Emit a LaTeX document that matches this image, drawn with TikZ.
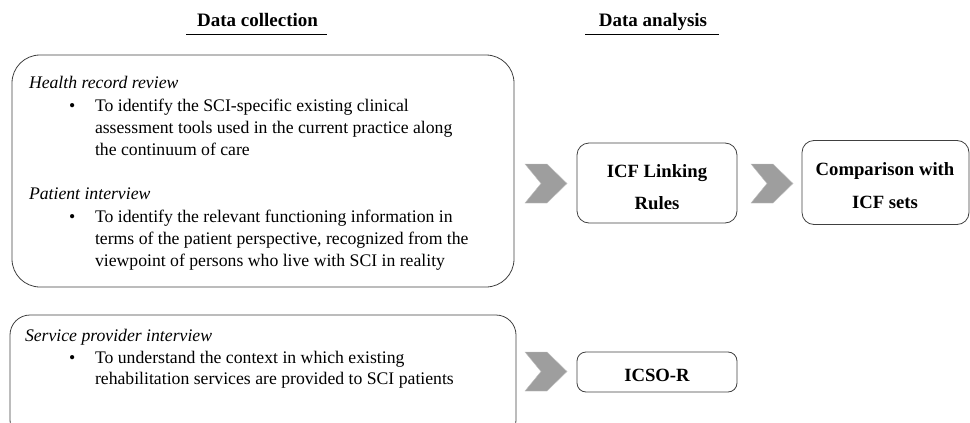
\documentclass[tikz,border=0pt]{standalone}
\usepackage{fontspec}
\setmainfont{Liberation Serif}
\begin{document}
\begin{tikzpicture}[x=1pt,y=-1pt,
  every node/.style={inner sep=0pt,outer sep=0pt},
  bigbox/.style={draw=black!75,line width=0.8pt,rounded corners=28pt},
  smallbox/.style={draw=black!75,line width=0.8pt,rounded corners=12pt},
  chev/.style={fill=black!38,draw=black!25,line width=0.4pt},
  heading/.style={font=\fontsize{19}{19}\selectfont\bfseries,anchor=base},
  part/.style={font=\fontsize{17.7}{22}\selectfont\itshape,anchor=base west},
  body/.style={font=\fontsize{17.7}{22}\selectfont,anchor=base west},
  stage/.style={font=\fontsize{18.7}{20}\selectfont\bfseries,anchor=base}]
\useasboundingbox (0,0) rectangle (970,423);

% column headings
\node[heading] (hcol) at (257.5,26.5) {Data collection};
\node[heading] (hana) at (653,26.5) {Data analysis};
\draw[line width=0.6pt] (186,34) -- (327,34);
\draw[line width=0.6pt] (585,34) -- (719,34);

% data collection boxes
\draw[bigbox] (12,55) rectangle (514,287);
\draw[bigbox,rounded corners=20pt] (10,315) rectangle (516,440);

\node[part] (hr) at (29,88) {Health record review};
\node[body] (b1) at (69,111) {\textbullet};
\node[body] (t1a) at (95,111) {To identify the SCI-specific existing clinical};
\node[body] (t1b) at (95,133) {assessment tools used in the current practice along};
\node[body] (t1c) at (95,155) {the continuum of care};

\node[part] (pi) at (29,199) {Patient interview};
\node[body] (b2) at (69,222) {\textbullet};
\node[body] (t2a) at (95,222) {To identify the relevant functioning information in};
\node[body] (t2b) at (95,244) {terms of the patient perspective, recognized from the};
\node[body] (t2c) at (95,266) {viewpoint of persons who live with SCI in reality};

\node[part] (sp) at (25,341.5) {Service provider interview};
\node[body] (b3) at (69,363) {\textbullet};
\node[body] (t3a) at (95,363) {To understand the context in which existing};
\node[body] (t3b) at (95,384) {rehabilitation services are provided to SCI patients};

% chevrons
\foreach \cx/\cy in {525/164, 751/164, 525/352} {
  \draw[chev] (\cx,\cy) -- ++(22,0) -- ++(20,19.5) -- ++(-20,19.5) -- ++(-22,0) -- ++(16,-19.5) -- cycle;
}

% analysis boxes
\node[smallbox,minimum width=160pt,minimum height=80pt] (icf) at (657,183) {};
\node[stage] (icf1) at (657,177) {ICF Linking};
\node[stage] (icf2) at (657,209) {Rules};
\node[smallbox,minimum width=167pt,minimum height=84pt] (cmp) at (885.5,182.5) {};
\node[stage] (cmp1) at (885,175) {Comparison with};
\node[stage] (cmp2) at (885,208) {ICF sets};
\node[smallbox,rounded corners=9pt,minimum width=160pt,minimum height=40pt] (icso) at (657,372) {};
\node[stage] (icso1) at (657,381) {ICSO-R};
\end{tikzpicture}
\end{document}
